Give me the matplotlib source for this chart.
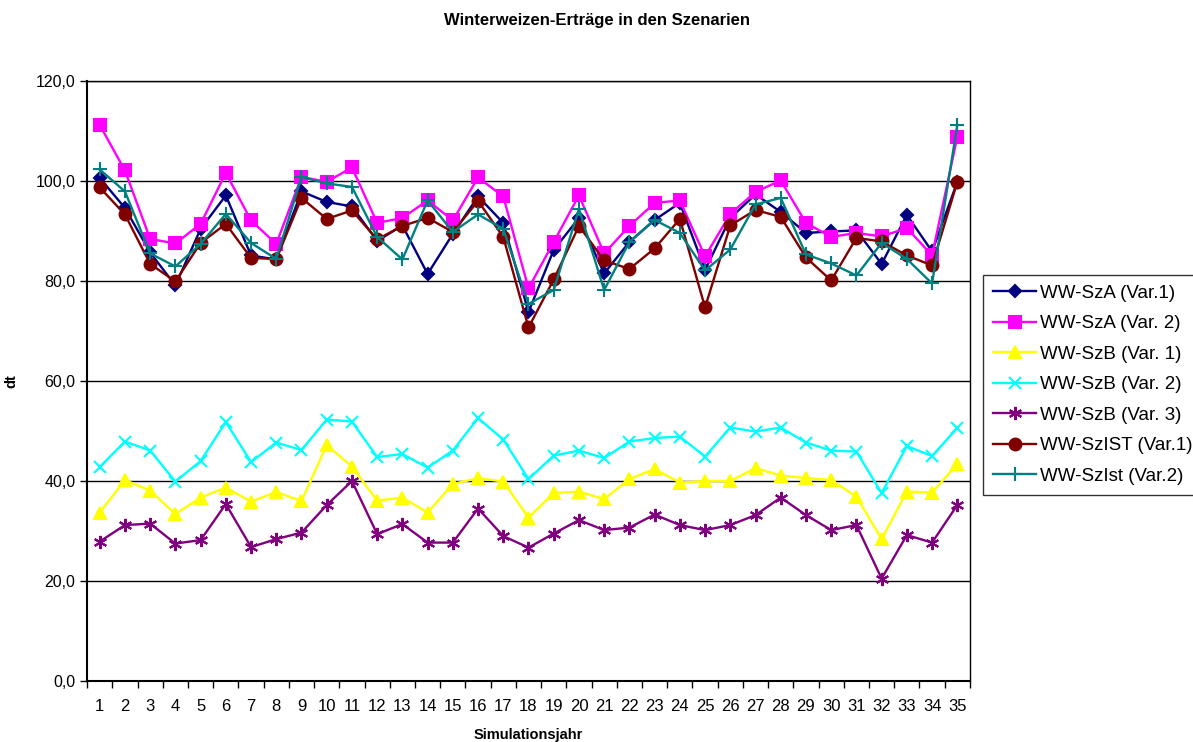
import numpy as np
import matplotlib.pyplot as plt
from matplotlib.ticker import FuncFormatter, MultipleLocator

plt.rcParams['font.family'] = ['Liberation Sans', 'DejaVu Sans']

jahre = list(range(1, 36))

sza_var1 = [100.6, 94.6, 85.7, 79.1, 90.4, 97.1, 85.1, 84.3, 97.9, 95.8, 94.9, 88.0,
            91.1, 81.4, 89.4, 96.9, 91.6, 73.8, 86.2, 92.6, 81.5, 87.8, 92.2, 95.6,
            82.2, 92.6, 97.3, 93.8, 89.6, 89.9, 90.1, 83.4, 93.2, 85.9, 99.8]
sza_var2 = [111.2, 102.1, 88.4, 87.5, 91.4, 101.6, 92.1, 87.4, 100.8, 99.8, 102.7, 91.6,
            92.6, 96.1, 92.1, 100.7, 96.9, 78.5, 87.8, 97.1, 85.5, 91.0, 95.6, 96.1,
            84.9, 93.4, 97.8, 100.1, 91.6, 88.8, 89.6, 88.9, 90.6, 85.1, 108.8]
szb_var1 = [33.7, 40.2, 38.1, 33.4, 36.7, 38.7, 35.9, 37.8, 36.0, 47.2, 42.9, 36.1,
            36.7, 33.7, 39.4, 40.6, 39.9, 32.7, 37.6, 37.9, 36.4, 40.4, 42.4, 39.7,
            40.0, 40.0, 42.6, 41.1, 40.6, 40.2, 36.9, 28.4, 37.9, 37.7, 43.4]
szb_var2 = [42.8, 47.9, 46.1, 39.9, 44.0, 51.8, 43.8, 47.7, 46.2, 52.3, 51.9, 44.8,
            45.4, 42.7, 46.1, 52.6, 48.3, 40.4, 45.1, 46.1, 44.6, 47.9, 48.6, 48.9,
            44.9, 50.7, 49.9, 50.7, 47.7, 46.1, 45.9, 37.6, 47.0, 45.0, 50.6]
szb_var3 = [27.9, 31.2, 31.5, 27.5, 28.2, 35.4, 26.8, 28.4, 29.7, 35.2, 40.0, 29.4,
            31.4, 27.7, 27.7, 34.5, 29.0, 26.7, 29.5, 32.2, 30.2, 30.7, 33.3, 31.2,
            30.2, 31.2, 33.2, 36.7, 33.2, 30.2, 31.2, 20.5, 29.2, 27.7, 35.2]
szist_var1 = [98.7, 93.3, 83.4, 79.9, 87.6, 91.4, 84.6, 84.4, 96.6, 92.4, 94.1, 88.3,
              91.0, 92.6, 89.8, 96.0, 88.8, 70.7, 80.3, 91.0, 84.1, 82.4, 86.5, 92.4,
              74.7, 91.1, 94.2, 92.8, 84.7, 80.1, 88.6, 87.9, 85.1, 83.1, 99.8]
szist_var2 = [102.3, 97.9, 85.5, 82.9, 87.4, 93.4, 87.6, 84.4, 100.8, 99.5, 98.8, 88.8,
              84.3, 96.1, 89.8, 93.3, 90.4, 75.4, 78.2, 94.4, 78.2, 87.8, 92.2, 89.6,
              82.1, 86.3, 95.3, 96.6, 85.3, 83.5, 81.1, 87.6, 84.4, 79.5, 111.2]

serien = [
    ("WW-SzA (Var.1)", sza_var1, "#000080", "D", 6.5),
    ("WW-SzA (Var. 2)", sza_var2, "#FF00FF", "s", 8.5),
    ("WW-SzB (Var. 1)", szb_var1, "#FFFF00", "^", 8.5),
    ("WW-SzB (Var. 2)", szb_var2, "#00FFFF", "x", 8.5),
    ("WW-SzB (Var. 3)", szb_var3, "#800080", (6, 2, 0), 9.5),
    ("WW-SzIST (Var.1)", szist_var1, "#800000", "o", 8.5),
    ("WW-SzIst (Var.2)", szist_var2, "#008080", "+", 10),
]

fig = plt.figure(figsize=(11.93, 7.42), dpi=100)
ax = fig.add_axes([0.073, 0.082, 0.740, 0.809])

for name, werte, farbe, marker, ms in serien:
    ax.plot(jahre, werte, color=farbe, marker=marker, markersize=ms,
            markeredgewidth=1.5, linewidth=1.7, label=name)

ax.set_xlim(0.5, 35.5)
ax.set_ylim(0, 120)
ax.yaxis.set_major_locator(MultipleLocator(20))
ax.yaxis.set_major_formatter(FuncFormatter(lambda v, p: f"{v:.1f}".replace(".", ",")))
ax.grid(axis="y", color="black", linewidth=1)
ax.set_axisbelow(True)

# category ticks between the years, labels centred on the years
ax.set_xticks(np.arange(0.5, 36, 1))
ax.set_xticklabels([])
ax.set_xticks(jahre, minor=True)
ax.set_xticklabels([str(j) for j in jahre], minor=True)
ax.tick_params(axis="x", which="major", direction="out", length=5, width=1)
ax.tick_params(axis="x", which="minor", length=0, pad=13, labelsize=12)
ax.tick_params(axis="y", direction="out", length=5, width=1, labelsize=11.5)

for s in ax.spines.values():
    s.set_color("black")
    s.set_linewidth(1)
ax.spines["left"].set_linewidth(1.5)
ax.spines["bottom"].set_linewidth(1.5)

fig.suptitle("Winterweizen-Erträge in den Szenarien", x=0.5, y=0.982,
             fontsize=12, fontweight="bold")
ax.set_xlabel("Simulationsjahr", fontsize=10.5, fontweight="bold", labelpad=10)
ax.set_ylabel("dt", fontsize=10.5, fontweight="bold", labelpad=12)

leg = fig.legend(loc="upper left", bbox_to_anchor=(0.824, 0.63), fontsize=13.5,
                 frameon=True, fancybox=False, edgecolor="black",
                 borderpad=0.55, labelspacing=0.71, handlelength=2.3,
                 handletextpad=0.2, borderaxespad=0)
leg.get_frame().set_linewidth(1)

fig.savefig("out.png", dpi=100)
